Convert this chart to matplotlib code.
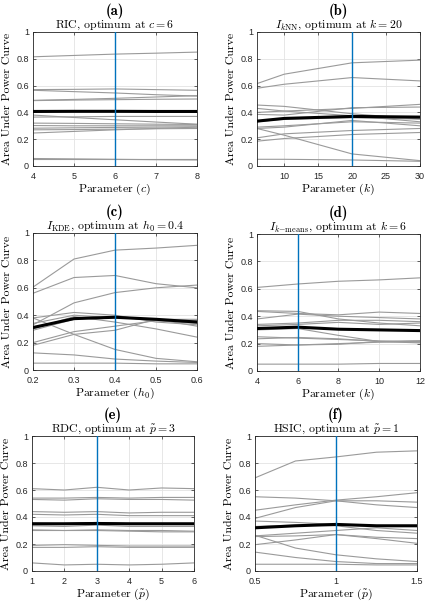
import matplotlib
matplotlib.use("Agg")
import matplotlib.pyplot as plt

plt.rcParams['mathtext.fontset'] = 'cm'
plt.rcParams['axes.formatter.use_mathtext'] = True

# ---------------- DATA ----------------
ric_x = [4, 5, 6, 7, 8]
ric_lines = [
    [0.815, 0.825, 0.835, 0.842, 0.850],
    [0.570, 0.572, 0.575, 0.570, 0.565],
    [0.565, 0.555, 0.545, 0.532, 0.522],
    [0.490, 0.497, 0.505, 0.515, 0.525],
    [0.488, 0.492, 0.495, 0.498, 0.500],
    [0.380, 0.362, 0.345, 0.328, 0.312],
    [0.365, 0.367, 0.370, 0.370, 0.370],
    [0.320, 0.318, 0.315, 0.312, 0.310],
    [0.302, 0.300, 0.300, 0.300, 0.300],
    [0.282, 0.285, 0.288, 0.290, 0.292],
    [0.270, 0.272, 0.275, 0.278, 0.280],
    [0.246, 0.258, 0.270, 0.280, 0.290],
    [0.056, 0.053, 0.050, 0.047, 0.045],
    [0.050, 0.050, 0.050, 0.050, 0.050],
]
ric_mean = [0.407, 0.408, 0.408, 0.407, 0.407]

knn_x = [6, 10, 20, 30]
knn_lines = [
    [0.615, 0.685, 0.770, 0.790],
    [0.580, 0.610, 0.660, 0.635],
    [0.455, 0.445, 0.390, 0.350],
    [0.430, 0.410, 0.375, 0.330],
    [0.400, 0.410, 0.430, 0.460],
    [0.385, 0.380, 0.435, 0.440],
    [0.330, 0.350, 0.360, 0.350],
    [0.290, 0.300, 0.330, 0.320],
    [0.280, 0.290, 0.340, 0.300],
    [0.280, 0.230, 0.090, 0.040],
    [0.210, 0.240, 0.265, 0.280],
    [0.185, 0.205, 0.235, 0.250],
    [0.050, 0.050, 0.045, 0.035],
]
knn_mean = [0.335, 0.355, 0.370, 0.365]

kde_x = [0.2, 0.3, 0.4, 0.5, 0.6]
kde_lines = [
    [0.605, 0.810, 0.875, 0.890, 0.910],
    [0.560, 0.675, 0.690, 0.630, 0.600],
    [0.330, 0.490, 0.565, 0.600, 0.620],
    [0.380, 0.420, 0.400, 0.350, 0.330],
    [0.340, 0.400, 0.380, 0.370, 0.320],
    [0.300, 0.390, 0.350, 0.300, 0.240],
    [0.380, 0.260, 0.150, 0.085, 0.060],
    [0.290, 0.370, 0.390, 0.360, 0.340],
    [0.200, 0.280, 0.320, 0.360, 0.360],
    [0.180, 0.260, 0.290, 0.370, 0.370],
    [0.125, 0.110, 0.080, 0.065, 0.055],
    [0.050, 0.050, 0.050, 0.045, 0.045],
]
kde_mean = [0.310, 0.375, 0.385, 0.370, 0.350]

kmeans_x = [4, 6, 8, 10, 12]
kmeans_lines = [
    [0.610, 0.635, 0.655, 0.665, 0.680],
    [0.440, 0.435, 0.380, 0.350, 0.330],
    [0.435, 0.420, 0.410, 0.430, 0.420],
    [0.380, 0.415, 0.400, 0.390, 0.380],
    [0.340, 0.350, 0.370, 0.370, 0.360],
    [0.330, 0.340, 0.355, 0.340, 0.350],
    [0.300, 0.310, 0.260, 0.215, 0.220],
    [0.250, 0.240, 0.230, 0.220, 0.210],
    [0.235, 0.245, 0.235, 0.215, 0.205],
    [0.200, 0.190, 0.195, 0.215, 0.220],
    [0.180, 0.190, 0.200, 0.210, 0.215],
    [0.050, 0.050, 0.050, 0.055, 0.055],
]
kmeans_mean = [0.310, 0.320, 0.305, 0.300, 0.295]

rdc_x = [1, 2, 3, 4, 5, 6]
rdc_lines = [
    [0.610, 0.600, 0.620, 0.600, 0.615, 0.610],
    [0.540, 0.540, 0.545, 0.540, 0.545, 0.545],
    [0.530, 0.525, 0.535, 0.530, 0.530, 0.525],
    [0.440, 0.435, 0.440, 0.430, 0.435, 0.435],
    [0.420, 0.415, 0.420, 0.410, 0.410, 0.410],
    [0.355, 0.350, 0.360, 0.350, 0.350, 0.345],
    [0.335, 0.330, 0.340, 0.330, 0.330, 0.330],
    [0.305, 0.300, 0.305, 0.300, 0.300, 0.295],
    [0.300, 0.300, 0.300, 0.295, 0.290, 0.290],
    [0.190, 0.195, 0.190, 0.185, 0.185, 0.185],
    [0.175, 0.175, 0.180, 0.175, 0.175, 0.175],
    [0.060, 0.045, 0.050, 0.045, 0.050, 0.060],
]
rdc_mean = [0.350, 0.350, 0.352, 0.350, 0.350, 0.350]

hsic_x = [0.5, 0.75, 1.0, 1.25, 1.5]
hsic_lines = [
    [0.690, 0.815, 0.845, 0.880, 0.890],
    [0.550, 0.540, 0.520, 0.490, 0.470],
    [0.450, 0.490, 0.525, 0.550, 0.580],
    [0.390, 0.470, 0.520, 0.520, 0.510],
    [0.370, 0.360, 0.345, 0.330, 0.330],
    [0.330, 0.340, 0.335, 0.300, 0.280],
    [0.265, 0.170, 0.120, 0.090, 0.070],
    [0.260, 0.280, 0.300, 0.320, 0.300],
    [0.255, 0.260, 0.270, 0.250, 0.240],
    [0.195, 0.230, 0.270, 0.240, 0.205],
    [0.140, 0.100, 0.070, 0.055, 0.055],
    [0.050, 0.050, 0.050, 0.045, 0.045],
]
hsic_mean = [0.320, 0.335, 0.345, 0.335, 0.335]

panels = [
    dict(label='(a)', title=r'RIC, optimum at $c = 6$', xlabel=r'Parameter ($c$)',
         x=ric_x, lines=ric_lines, mean=ric_mean, opt=6, xlim=(4, 8), xticks=[4, 5, 6, 7, 8],
         xtl=['4', '5', '6', '7', '8'], rect=[33, 32, 197, 166]),
    dict(label='(b)', title=r'$I_{k\mathrm{NN}}$, optimum at $k = 20$', xlabel=r'Parameter ($k$)',
         x=knn_x, lines=knn_lines, mean=knn_mean, opt=20, xlim=(6, 30), xticks=[10, 15, 20, 25, 30],
         xtl=['10', '15', '20', '25', '30'], rect=[257, 32, 420, 166]),
    dict(label='(c)', title=r'$I_{\mathrm{KDE}}$, optimum at $h_0 = 0.4$', xlabel=r'Parameter ($h_0$)',
         x=kde_x, lines=kde_lines, mean=kde_mean, opt=0.4, xlim=(0.2, 0.6), xticks=[0.2, 0.3, 0.4, 0.5, 0.6],
         xtl=['0.2', '0.3', '0.4', '0.5', '0.6'], rect=[33, 233, 197, 370]),
    dict(label='(d)', title=r'$I_{k\mathrm{-means}}$, optimum at $k = 6$', xlabel=r'Parameter ($k$)',
         x=kmeans_x, lines=kmeans_lines, mean=kmeans_mean, opt=6, xlim=(4, 12), xticks=[4, 6, 8, 10, 12],
         xtl=['4', '6', '8', '10', '12'], rect=[257, 234, 420, 371]),
    dict(label='(e)', title=r'RDC, optimum at $\tilde{p} = 3$', xlabel=r'Parameter ($\tilde{p}$)',
         x=rdc_x, lines=rdc_lines, mean=rdc_mean, opt=3, xlim=(1, 6), xticks=[1, 2, 3, 4, 5, 6],
         xtl=['1', '2', '3', '4', '5', '6'], rect=[32, 436, 194, 571]),
    dict(label='(f)', title=r'HSIC, optimum at $\tilde{p} = 1$', xlabel=r'Parameter ($\tilde{p}$)',
         x=hsic_x, lines=hsic_lines, mean=hsic_mean, opt=1, xlim=(0.5, 1.5), xticks=[0.5, 1, 1.5],
         xtl=['0.5', '1', '1.5'], rect=[255, 436, 417, 571]),
]

W, H = 427, 602
fig = plt.figure(figsize=(W / 100, H / 100), dpi=100)

yticks = [0, 0.2, 0.4, 0.6, 0.8, 1]
ytl = ['0', '0.2', '0.4', '0.6', '0.8', '1']
tickfont = dict(family='Liberation Sans', size=6.5)

for p in panels:
    l, t, r, b = p['rect']
    ax = fig.add_axes([l / W, 1 - b / H, (r - l) / W, (b - t) / H])
    for ln in p['lines']:
        ax.plot(p['x'], ln, color='#9a9a9a', lw=0.8, zorder=2)
    ax.plot(p['x'], p['mean'], color='black', lw=2.2, zorder=3)
    ax.axvline(p['opt'], color='#0072BD', lw=1.0, zorder=4)
    ax.set_xlim(*p['xlim'])
    ax.set_ylim(0, 1)
    ax.set_xticks(p['xticks'])
    ax.set_xticklabels(p['xtl'], **tickfont)
    ax.set_yticks(yticks)
    ax.set_yticklabels(ytl, **tickfont)
    ax.grid(True, color='#e3e3e3', lw=0.6, zorder=0)
    ax.set_axisbelow(True)
    ax.tick_params(direction='in', length=2.5, width=0.5, top=True, right=True,
                   labeltop=False, labelright=False, colors='#262626')
    ax.tick_params(axis='x', pad=4)
    ax.tick_params(axis='y', pad=3)
    for s in ax.spines.values():
        s.set_linewidth(0.6)
        s.set_color('#262626')
    ax.set_xlabel(p['xlabel'], family='cmr10', size=8.5, labelpad=0.5)
    ax.set_ylabel('Area Under Power Curve', family='cmr10', size=8.5, labelpad=3)
    ax.set_title(p['title'], family='cmr10', size=8.5, pad=3)
    cx = (l + r) / 2 / W
    fig.text(cx, 1 - (t - 21) / H, p['label'], family='cmb10', size=10.5,
             ha='center', va='center')

fig.savefig('out.png', dpi=100)
